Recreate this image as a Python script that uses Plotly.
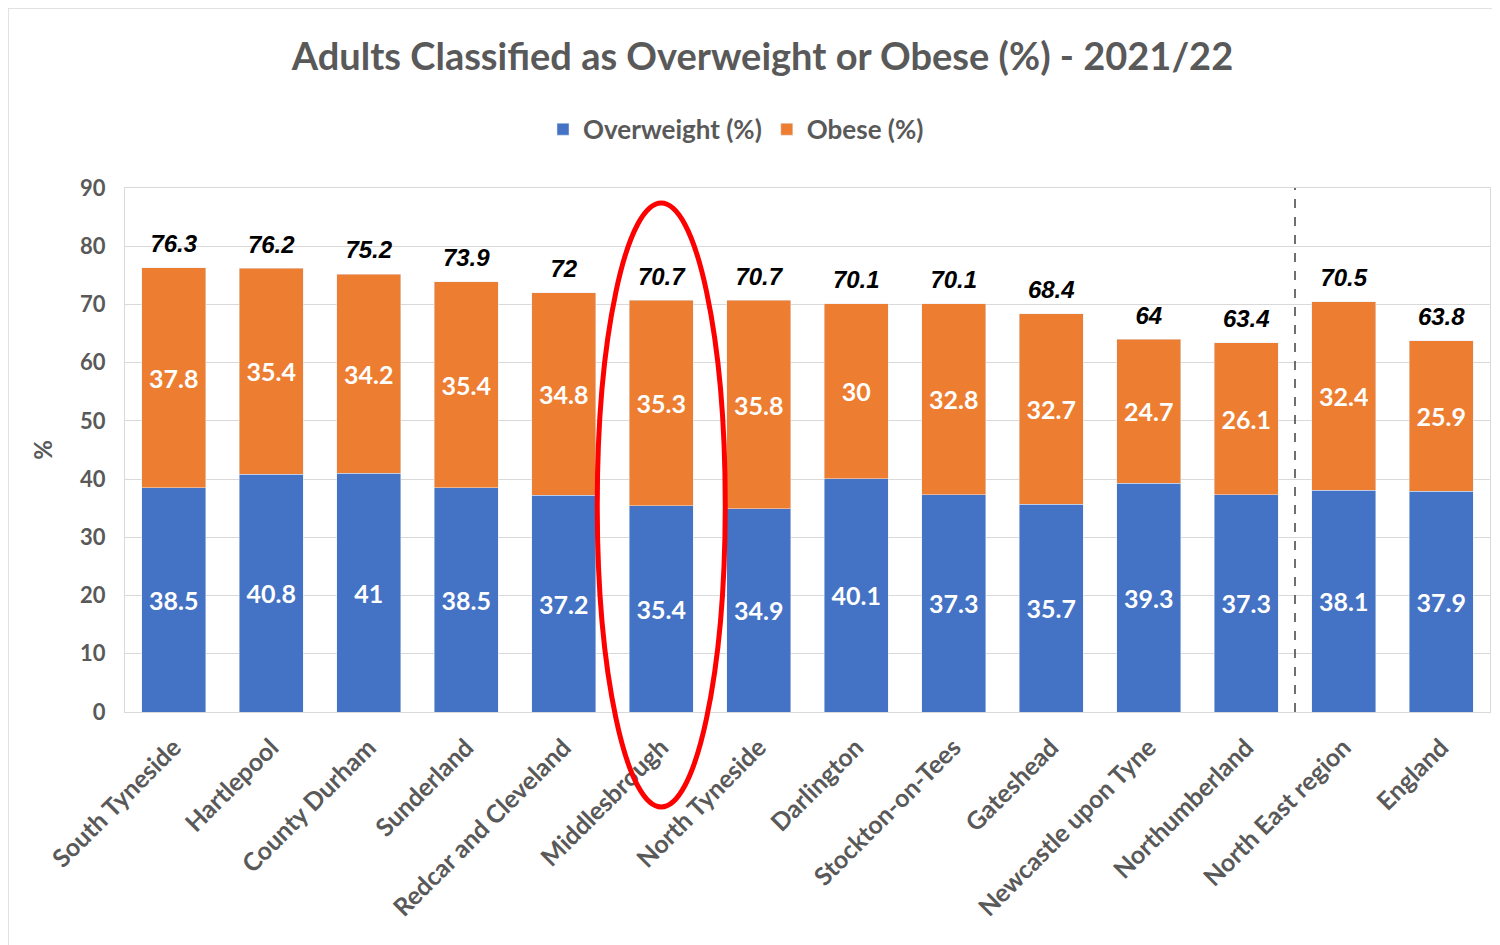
import plotly.graph_objects as go

# data
areas = ['South Tyneside', 'Hartlepool', 'County Durham', 'Sunderland',
         'Redcar and Cleveland', 'Middlesbrough', 'North Tyneside', 'Darlington',
         'Stockton-on-Tees', 'Gateshead', 'Newcastle upon Tyne', 'Northumberland',
         'North East region', 'England']
overweight = [38.5, 40.8, 41, 38.5, 37.2, 35.4, 34.9, 40.1, 37.3, 35.7, 39.3, 37.3, 38.1, 37.9]
obese = [37.8, 35.4, 34.2, 35.4, 34.8, 35.3, 35.8, 30, 32.8, 32.7, 24.7, 26.1, 32.4, 25.9]
totals = [76.3, 76.2, 75.2, 73.9, 72, 70.7, 70.7, 70.1, 70.1, 68.4, 64, 63.4, 70.5, 63.8]
highlight = 'Middlesbrough'

BLUE = '#4472C4'
ORANGE = '#ED7D31'
GREY = '#595959'
FONT = 'Lato, sans-serif'

# page body adds an 8px offset, so margins are shifted by that much
W, H = 1500, 945
ml, mr, mt, mb = 117, 18, 180, 241
pw, ph = W - ml - mr, H - mt - mb

fig = go.Figure()
fig.add_trace(go.Bar(x=areas, y=overweight, name='Overweight (%)', marker_color=BLUE,
                     text=overweight, textposition='inside', insidetextanchor='middle',
                     textfont=dict(color='white', size=25, family=FONT, weight='bold'),
                     constraintext='none', textangle=0))
fig.add_trace(go.Bar(x=areas, y=obese, name='Obese (%)', marker_color=ORANGE,
                     text=obese, textposition='inside', insidetextanchor='middle',
                     textfont=dict(color='white', size=25, family=FONT, weight='bold'),
                     constraintext='none', textangle=0))
fig.add_trace(go.Scatter(x=areas, y=totals, mode='markers+text', text=[str(t) for t in totals],
                         textposition='top center', showlegend=False, hoverinfo='skip',
                         marker=dict(size=14, opacity=0),
                         textfont=dict(color='black', size=24, family='Liberation Sans, Arial, sans-serif',
                                       weight='bold', style='italic')))

# dashed separator between local areas and region/England
fig.add_shape(type='line', xref='x', yref='paper', x0=11.5, x1=11.5, y0=0, y1=1,
              line=dict(color='#404040', width=1.5, dash='dash'))

# red ellipse around the highlighted area (paper coords so it isn't clipped)
i = areas.index(highlight)
cx = (i + 0.5) / len(areas)
fig.add_shape(type='circle', xref='paper', yref='paper',
              x0=cx - 64 / pw, x1=cx + 64 / pw, y0=-95 / ph, y1=509 / ph,
              line=dict(color='#FF0000', width=5), layer='above')

# outer chart border
fig.add_shape(type='rect', xref='paper', yref='paper',
              x0=-ml / pw, x1=(pw + mr + 2) / pw, y0=-(mb + 2) / ph, y1=(ph + mt) / ph,
              line=dict(color='#d9d9d9', width=1.5))

fig.update_layout(
    barmode='stack', bargap=0.34,
    width=W, height=H,
    margin=dict(l=ml, r=mr, t=mt, b=mb, autoexpand=False),
    paper_bgcolor='white', plot_bgcolor='white',
    font=dict(family=FONT, color=GREY),
    title=dict(text='Adults Classified as Overweight or Obese (%) - 2021/22',
               x=0.503, xref='container', xanchor='center', y=0.948, yanchor='middle',
               font=dict(size=38, color=GREY, family=FONT, weight='bold')),
    legend=dict(orientation='h', x=(728 - ml) / pw, xanchor='center', xref='paper',
                y=1.112, yanchor='middle', traceorder='normal',
                font=dict(size=26, color=GREY, family=FONT, weight='bold'),
                itemwidth=30),
)
fig.update_xaxes(range=[-0.5, len(areas) - 0.5], tickangle=-45, showline=True,
                 linecolor='#d9d9d9', mirror=True, ticklabelstandoff=10,
                 tickfont=dict(size=25, color=GREY, family=FONT, weight='bold'))
fig.update_yaxes(range=[0, 90], dtick=10, showgrid=True, gridcolor='#d9d9d9',
                 showline=True, linecolor='#d9d9d9', mirror=True, ticklabelstandoff=14,
                 zeroline=False,
                 tickfont=dict(size=22, color=GREY, family=FONT, weight='bold'),
                 title=dict(text='%', standoff=20,
                            font=dict(size=24, color=GREY, family=FONT, weight='bold')))

fig.write_html('out.html')
